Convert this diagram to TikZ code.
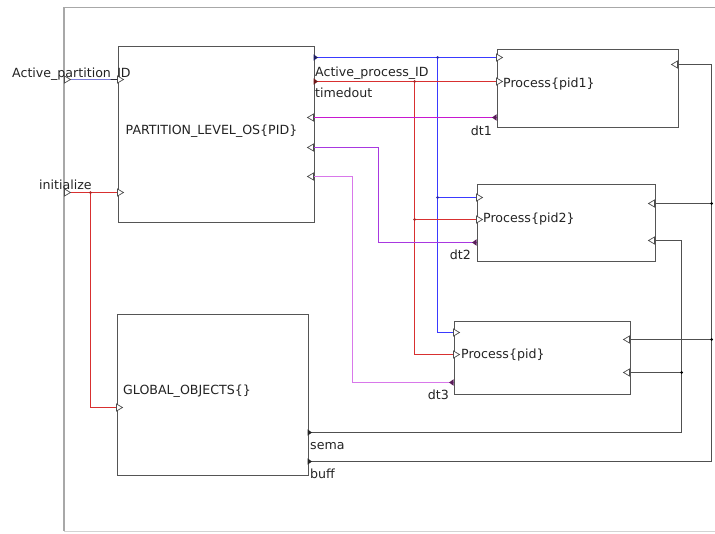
\documentclass[tikz,border=0pt]{standalone}
\usepackage{fontspec}
\setmainfont{DejaVu Sans}
\definecolor{framec}{HTML}{A8A8A8}
\definecolor{boxc}{HTML}{555555}
\definecolor{pidc}{HTML}{7C7CD8}
\definecolor{bluec}{HTML}{3A3AFF}
\definecolor{redc}{HTML}{D83030}
\definecolor{dtonec}{HTML}{C818D0}
\definecolor{dttwoc}{HTML}{A838E0}
\definecolor{dtthreec}{HTML}{D878EA}
\definecolor{wirec}{HTML}{505050}
\definecolor{txtc}{HTML}{222222}
\begin{document}
\begin{tikzpicture}[x=1pt,y=-1pt,
  box/.style={draw=boxc, line width=1pt, inner sep=0pt, anchor=north west},
  txt/.style={font=\fontsize{12.6}{14}\selectfont, inner sep=0pt, anchor=base west, text=txtc},
  txtr/.style={txt, anchor=base east},
  wire/.style={line width=1.3pt},
  jdot/.style={circle, fill, inner sep=0pt, minimum size=3pt},
  inR/.pic={\draw[line width=0.7pt, draw=black!70, fill=white] (0,-3.5) -- (6,0) -- (0,3.5) -- cycle;},
  inL/.pic={\draw[line width=0.7pt, draw=black!70, fill=white] (0,-3.5) -- (-6,0) -- (0,3.5) -- cycle;},
  outR/.pic={\fill[pic actions] (0,-3.2) -- (4.5,0) -- (0,3.2) -- cycle;},
  outL/.pic={\fill[pic actions] (0,-3.2) -- (-4.5,0) -- (0,3.2) -- cycle;}
]
\useasboundingbox (0,0) rectangle (715,533);

% outer frame
\draw[framec, line width=1.3pt] (716,7.5) -- (64,7.5) -- (64,531);
\draw[framec!50, line width=1pt] (64,531) -- (716,531);

\begin{scope}[shift={(0.5,0.5)}]
% blocks
\node[box, minimum width=196pt, minimum height=176pt] (os) at (117,45) {};
\node[box, minimum width=191pt, minimum height=161pt] (glob) at (116,313) {};
\node[box, minimum width=181pt, minimum height=78pt] (p1) at (496,48) {};
\node[box, minimum width=178pt, minimum height=77pt] (p2) at (476,183) {};
\node[box, minimum width=176pt, minimum height=73pt] (p3) at (453,320) {};

% ports
\coordinate (f-i1) at (64,79);
\coordinate (f-i2) at (64,192);
\coordinate (os-i1) at (117,79);
\coordinate (os-i2) at (117,192);
\coordinate (os-o1) at (313,57);
\coordinate (os-o2) at (313,81);
\coordinate (os-i3) at (313,117);
\coordinate (os-i4) at (313,147);
\coordinate (os-i5) at (313,176);
\coordinate (g-i1) at (116,407);
\coordinate (g-o1) at (307,432);
\coordinate (g-o2) at (307,461);
\coordinate (p1-i1) at (496,57);
\coordinate (p1-i2) at (496,81);
\coordinate (p1-o1) at (496,117);
\coordinate (p1-i3) at (677,64);
\coordinate (p2-i1) at (476,197);
\coordinate (p2-i2) at (476,219);
\coordinate (p2-o1) at (476,242);
\coordinate (p2-i3) at (654,203);
\coordinate (p2-i4) at (654,240);
\coordinate (p3-i1) at (453,332);
\coordinate (p3-i2) at (453,354);
\coordinate (p3-o1) at (453,382);
\coordinate (p3-i3) at (629,339);
\coordinate (p3-i4) at (629,372);

% junctions and bends
\coordinate (j-i) at (90,192);
\coordinate (j-b1) at (437,57);
\coordinate (j-b2) at (437,197);
\coordinate (j-r1) at (414,81);
\coordinate (j-r2) at (414,219);
\coordinate (j-s1) at (681,372);
\coordinate (j-bf1) at (711,203);
\coordinate (j-bf2) at (711,339);
\coordinate (b-dt2) at (378,242);
\coordinate (b-dt3) at (352,382);
\coordinate (b-s) at (681,432);
\coordinate (b-bf) at (711,461);

% wires
\draw[wire, draw=pidc] (f-i1) -- (os-i1);
\draw[wire, draw=redc] (f-i2) -- (os-i2);
\draw[wire, draw=redc] (j-i) |- (g-i1);
\draw[wire, draw=bluec] (os-o1) -- (p1-i1);
\draw[wire, draw=bluec] (j-b1) |- (p3-i1);
\draw[wire, draw=bluec] (j-b2) -- (p2-i1);
\draw[wire, draw=redc] (os-o2) -- (p1-i2);
\draw[wire, draw=redc] (j-r1) |- (p3-i2);
\draw[wire, draw=redc] (j-r2) -- (p2-i2);
\draw[wire, draw=dtonec] (p1-o1) -- (os-i3);
\draw[wire, draw=dttwoc] (p2-o1) -- (b-dt2) |- (os-i4);
\draw[wire, draw=dtthreec] (p3-o1) -- (b-dt3) |- (os-i5);
\draw[wire, draw=wirec] (g-o1) -- (b-s) |- (p2-i4);
\draw[wire, draw=wirec] (j-s1) -- (p3-i4);
\draw[wire, draw=wirec] (g-o2) -- (b-bf) |- (p1-i3);
\draw[wire, draw=wirec] (j-bf1) -- (p2-i3);
\draw[wire, draw=wirec] (j-bf2) -- (p3-i3);

% junction dots
\node[jdot, fill=redc!80!black] (d1) at (j-i) {};
\node[jdot, fill=bluec!70!black] (d2) at (j-b1) {};
\node[jdot, fill=bluec!70!black] (d3) at (j-b2) {};
\node[jdot, fill=redc!80!black] (d4) at (j-r1) {};
\node[jdot, fill=redc!80!black] (d5) at (j-r2) {};
\node[jdot, fill=black] (d6) at (j-s1) {};
\node[jdot, fill=black] (d7) at (j-bf1) {};
\node[jdot, fill=black] (d8) at (j-bf2) {};

% port glyphs
\pic at (f-i1) {inR};
\pic at (f-i2) {inR};
\pic at (os-i1) {inR};
\pic at (os-i2) {inR};
\pic[fill={rgb,255:red,30;green,30;blue,100}] at (os-o1) {outR};
\pic[fill={rgb,255:red,110;green,25;blue,25}] at (os-o2) {outR};
\pic at (os-i3) {inL};
\pic at (os-i4) {inL};
\pic at (os-i5) {inL};
\pic at (g-i1) {inR};
\pic[fill=black!85] at (g-o1) {outR};
\pic[fill=black!85] at (g-o2) {outR};
\pic at (p1-i1) {inR};
\pic at (p1-i2) {inR};
\pic[fill={rgb,255:red,90;green,30;blue,90}] at (p1-o1) {outL};
\pic at (p1-i3) {inL};
\pic at (p2-i1) {inR};
\pic at (p2-i2) {inR};
\pic[fill={rgb,255:red,90;green,30;blue,90}] at (p2-o1) {outL};
\pic at (p2-i3) {inL};
\pic at (p2-i4) {inL};
\pic at (p3-i1) {inR};
\pic at (p3-i2) {inR};
\pic[fill={rgb,255:red,90;green,30;blue,90}] at (p3-o1) {outL};
\pic at (p3-i3) {inL};
\pic at (p3-i4) {inL};
\end{scope}

% texts
\node[txt] (t-api) at (12,77) {Active\_partition\_ID};
\node[txt] (t-init) at (39,189.5) {initialize};
\node[txt] (t-os) at (125.5,134) {PARTITION\_LEVEL\_OS\{PID\}};
\node[txt] (t-glob) at (123,394) {GLOBAL\_OBJECTS\{\}};
\node[txt] (t-aprc) at (315,76) {Active\_process\_ID};
\node[txt] (t-to) at (315,97.5) {timedout};
\node[txt] (t-p1) at (503,87) {Process\{pid1\}};
\node[txt] (t-p2) at (483,222) {Process\{pid2\}};
\node[txt] (t-p3) at (461,358) {Process\{pid\}};
\node[txtr] (t-dt1) at (492,135) {dt1};
\node[txtr] (t-dt2) at (471,259) {dt2};
\node[txtr] (t-dt3) at (449,399) {dt3};
\node[txt] (t-sema) at (310,449) {sema};
\node[txt] (t-buff) at (310,478) {buff};
\end{tikzpicture}
\end{document}
